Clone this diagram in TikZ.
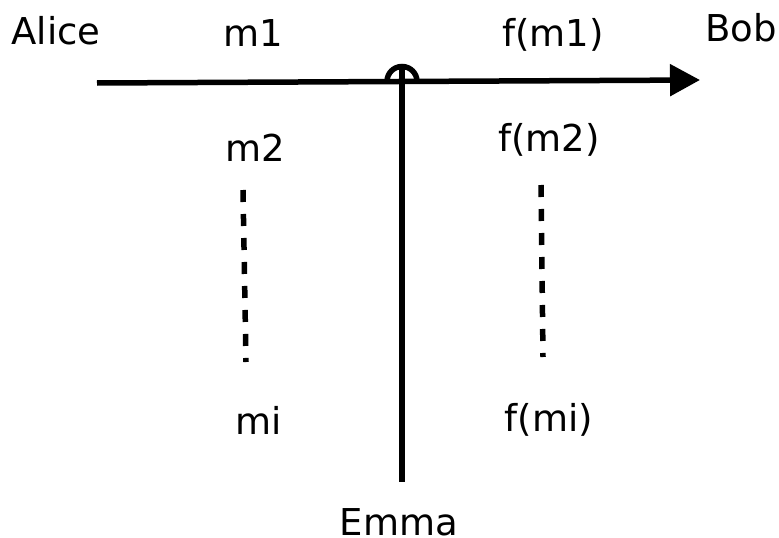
\documentclass[tikz,border=0pt]{standalone}
\usepackage{fontspec}
\setmainfont{DejaVu Sans}
\usetikzlibrary{arrows.meta,calc}
\begin{document}
\begin{tikzpicture}[x=1pt, y=-1pt, line width=5.5pt,
	lbl/.style={font=\fontsize{37}{42}\selectfont, inner sep=0pt},
	gap/.style={dash pattern=on 12pt off 12pt}]
		\useasboundingbox (0,0) rectangle (779,538);
		\coordinate (S) at (97,83);
		\coordinate (T) at (700,80);
		\coordinate (X) at (402,81.5);
		\coordinate (E) at (402,482);
		\coordinate (L1) at (243,190);
		\coordinate (L2) at (246,362);
		\coordinate (R1) at (541,185);
		\coordinate (R2) at (543,357);
		\draw[-{Triangle[length=30pt,width=31pt]}] (S)--(T);
		\draw ($(X)+(-15,0)$) arc[start angle=180, end angle=360, radius=15];
		\draw ($(X)+(0,-15)$)--(E);
		\draw[gap] (L1)--(L2);
		\draw[gap] (R1)--(R2);
		\foreach \n/\p/\t in {alice/{56,31}/Alice, bob/{741,28}/Bob, m1/{253,33}/m1, fm1/{553,35}/f(m1), m2/{255,148}/m2, fm2/{549,140}/f(m2), mi/{259,420}/mi, fmi/{549,420}/f(mi), emma/{399,522}/Emma}
		\node[lbl] (\n) at (\p) {\t};
	\end{tikzpicture}
\end{document}
